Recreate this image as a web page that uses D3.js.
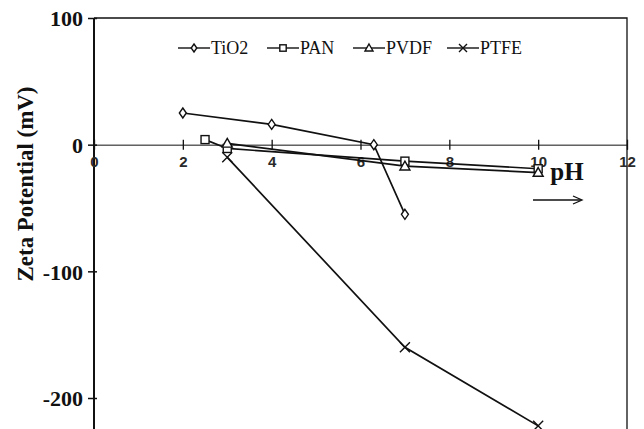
<!DOCTYPE html>
<html>
<head>
<meta charset="utf-8">
<script src="https://cdn.jsdelivr.net/npm/d3@7"></script>
<style>
  body { margin: 0; background: #fff; }
  text { font-family: "Liberation Serif", "Times New Roman", serif; }
</style>
</head>
<body>
<div id="chart"></div>
<script>
// data
var seriesNames = ["TiO2", "PAN", "PVDF", "PTFE"];
var tio2 = [[2, 25], [4, 16], [6.3, 0], [7, -55]];
var pan = [[2.5, 4], [3, -3], [7, -13], [10, -19]];
var pvdf = [[3, 1], [7, -17], [10, -22]];
var ptfe = [[3, -10], [7, -160], [10, -222]];
var xTicks = [0, 2, 4, 6, 8, 10, 12];
var yTicks = [100, 0, -100, -200];

var W = 644, H = 429;
var svg = d3.select("#chart").append("svg")
    .attr("width", W).attr("height", H);

var x = d3.scaleLinear().domain([0, 12]).range([94, 627]);
var y = d3.scaleLinear().domain([100, -200]).range([18, 398]);

var ink = "#111";

// frame: top, left, right (bottom is off the image)
svg.append("path")
    .attr("d", "M" + x(12) + "," + H + "V" + y(100) + "H" + x(0))
    .attr("fill", "none").attr("stroke", ink).attr("stroke-width", 1.3);
svg.append("path")
    .attr("d", "M" + x(0) + "," + y(100) + "V" + H)
    .attr("fill", "none").attr("stroke", ink).attr("stroke-width", 2);

// y axis ticks and labels
var yAxis = d3.axisLeft(y).tickValues(yTicks).tickSize(6).tickPadding(2)
    .tickFormat(function (d) { return String(d); });
var gy = svg.append("g").attr("transform", "translate(" + x(0) + ",0)").call(yAxis);
gy.select(".domain").remove();
gy.selectAll("line").attr("stroke", ink).attr("stroke-width", 1.5).attr("x2", -6).attr("x1", 3);
gy.selectAll("text").attr("font-size", 22).attr("font-weight", "bold").attr("fill", ink)
    .attr("dy", "0.36em").attr("x", -11);

// x axis drawn at zero
var xAxis = d3.axisBottom(x).tickValues(xTicks).tickSize(5).tickPadding(4);
var gx = svg.append("g").attr("transform", "translate(0," + y(0) + ")").call(xAxis);
gx.select(".domain").attr("stroke", ink).attr("stroke-width", 1);
gx.selectAll("line").attr("stroke", ink).attr("stroke-width", 1.3).attr("y1", -5).attr("y2", 5);
gx.selectAll("text").attr("font-size", 15).attr("font-weight", "bold").attr("fill", "#2a2a2a")
    .style("font-family", "'Liberation Sans', Arial, sans-serif")
    .attr("y", 12);

// axis titles
svg.append("text")
    .attr("transform", "translate(33,184) rotate(-90)")
    .attr("text-anchor", "middle")
    .attr("font-size", 23).attr("font-weight", "bold").attr("fill", ink)
    .attr("textLength", 195).attr("lengthAdjust", "spacingAndGlyphs")
    .text("Zeta Potential (mV)");

svg.append("text")
    .attr("x", 567).attr("y", 180)
    .attr("text-anchor", "middle")
    .attr("font-size", 25).attr("font-weight", "bold").attr("fill", ink)
    .text("pH");

svg.append("path").attr("d", "M533,200H581").attr("stroke", ink).attr("stroke-width", 1.3);
svg.append("path").attr("d", "M573,196L582,200L573,204").attr("fill", "none")
    .attr("stroke", ink).attr("stroke-width", 1.3);

// markers
function marker(g, kind, size) {
  var s = size;
  if (kind === "TiO2") {
    g.append("path").attr("d", "M0," + (-s) + "L" + (s * 0.7) + ",0L0," + s + "L" + (-s * 0.7) + ",0Z")
      .attr("fill", "#fff").attr("stroke", ink).attr("stroke-width", 1.4);
  } else if (kind === "PAN") {
    g.append("rect").attr("x", -s * 0.8).attr("y", -s * 0.8).attr("width", s * 1.6).attr("height", s * 1.6)
      .attr("fill", "#fff").attr("stroke", ink).attr("stroke-width", 1.4);
  } else if (kind === "PVDF") {
    g.append("path").attr("d", "M0," + (-s) + "L" + s + "," + (s * 0.75) + "L" + (-s) + "," + (s * 0.75) + "Z")
      .attr("fill", "#fff").attr("stroke", ink).attr("stroke-width", 1.4);
  } else {
    g.append("path").attr("d", "M" + (-s) + "," + (-s) + "L" + s + "," + s + "M" + s + "," + (-s) + "L" + (-s) + "," + s)
      .attr("fill", "none").attr("stroke", ink).attr("stroke-width", 1.4);
  }
}

var allSeries = [tio2, pan, pvdf, ptfe];
var line = d3.line().x(function (d) { return x(d[0]); }).y(function (d) { return y(d[1]); });

allSeries.forEach(function (data, i) {
  svg.append("path").datum(data).attr("d", line)
    .attr("fill", "none").attr("stroke", ink).attr("stroke-width", 1.7);
  data.forEach(function (d) {
    var g = svg.append("g").attr("transform", "translate(" + x(d[0]) + "," + y(d[1]) + ")");
    marker(g, seriesNames[i], 5);
  });
});

// legend
var legX = [178, 267, 353, 447];
seriesNames.forEach(function (name, i) {
  var g = svg.append("g").attr("transform", "translate(" + legX[i] + ",48)");
  g.append("line").attr("x1", 0).attr("x2", 32).attr("stroke", ink).attr("stroke-width", 1.4);
  marker(g.append("g").attr("transform", "translate(16,0)"), name, 4);
  g.append("text").attr("x", 33).attr("y", 0).attr("dy", "0.35em")
    .attr("font-size", 18).attr("fill", ink).text(name);
});
</script>
</body>
</html>
